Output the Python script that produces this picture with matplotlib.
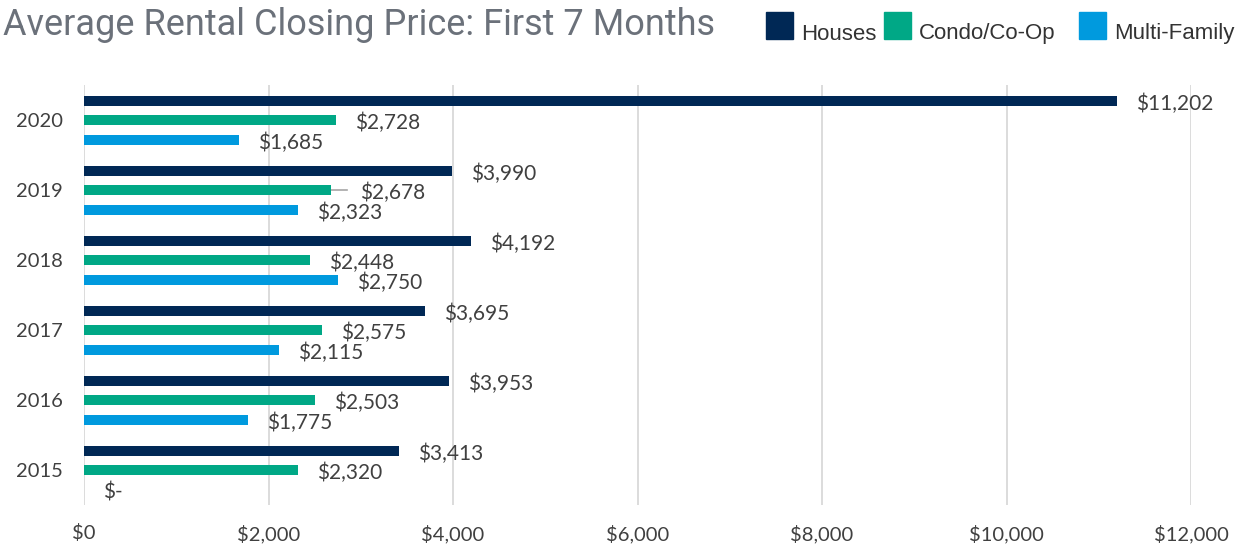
import numpy as np
import matplotlib.pyplot as plt
from matplotlib.patches import Rectangle

years = ['2015', '2016', '2017', '2018', '2019', '2020']
houses = [3413, 3953, 3695, 4192, 3990, 11202]
condo = [2320, 2503, 2575, 2448, 2678, 2728]
multi = [0, 1775, 2115, 2750, 2323, 1685]
series_names = ['Houses', 'Condo/Co-Op', 'Multi-Family']
xticks = [0, 2000, 4000, 6000, 8000, 10000, 12000]

colors = ['#002855', '#00A886', '#009ADE']
label_color = '#404040'
font = ['Lato', 'DejaVu Sans']

W, H = 1248, 550
fig = plt.figure(figsize=(W / 100, H / 100), dpi=100)
ax = fig.add_axes([84/W, 45/H, 1107/W, 420/H])

y = np.arange(len(years))
offsets = [0.27, 0, -0.285]
h = 0.15
for vals, off, col, name in zip([houses, condo, multi], offsets, colors, series_names):
    ax.barh(y + off, vals, height=h, color=col, label=name, zorder=3)
    for yi, v in zip(y, vals):
        txt = '$-' if v == 0 else '${:,}'.format(v)
        dx = 19
        if name == 'Condo/Co-Op' and yi == 4:
            # this label got pushed right, with a leader line
            ax.plot([v, v + 16 * 12000 / 1107], [yi + off, yi + off], color='#a6a6a6', lw=1.2, zorder=2)
            dx = 29
        ax.annotate(txt, (v, yi + off), xytext=(dx, -3), textcoords='offset pixels',
                    ha='left', va='center', fontsize=15, color=label_color, family=font)

ax.set_xlim(0, 12000)
ax.set_ylim(-0.5, 5.5)
ax.set_xticks(xticks)
ax.set_xticklabels(['${:,}'.format(t) for t in xticks], family=font)
ax.set_yticks(y)
ax.set_yticklabels(years, family=font)
ax.tick_params(axis='both', length=0, labelsize=14.5, labelcolor=label_color)
ax.tick_params(axis='x', pad=14)
ax.tick_params(axis='y', pad=15)
ax.grid(axis='x', color='#d9d9d9', lw=1.3, zorder=0)
for s in ax.spines.values():
    s.set_visible(False)

fig.text(3/W, 1 - 25/H, 'Average Rental Closing Price: First 7 Months', fontsize=26,
         color='#6b717a', va='center', ha='left', family=['Roboto', 'DejaVu Sans'])

# legend drawn by hand to sit where the reference has it
legend_x = [766, 884, 1079]
for lx, col, name in zip(legend_x, colors, series_names):
    fig.add_artist(Rectangle((lx / W, 1 - 39 / H), 27 / W, 27 / H, transform=fig.transFigure,
                             color=col))
    fig.text((lx + 35) / W, 1 - 34 / H, name, fontsize=16, color='#333333', va='center', ha='left',
             family=['Liberation Sans', 'DejaVu Sans'])

fig.savefig('out.png', dpi=100)
